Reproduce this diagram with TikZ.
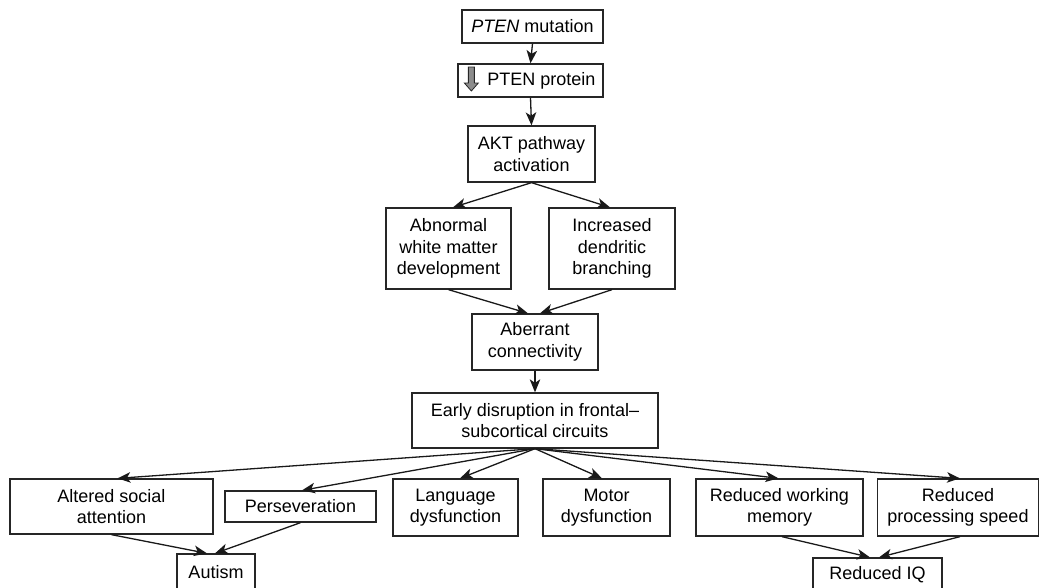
\documentclass[tikz,border=0pt]{standalone}
\usepackage{fontspec}
\setmainfont{Liberation Sans}
\usetikzlibrary{arrows.meta,calc}
\begin{document}
\begin{tikzpicture}[x=1pt,y=-1pt,
  box/.style={draw=black!85,line width=1.3pt,inner sep=0pt,align=center,
    font=\fontsize{18}{21.5}\selectfont},
  arr/.style={line width=1.3pt,draw=black!90,-{Stealth[length=13pt,width=10.5pt,inset=3.5pt]}}]
\useasboundingbox (0,0) rectangle (1039,587);
% nodes
\node[box,minimum width=141pt,minimum height=33pt] (mut) at (532.5,26.5) {\textit{PTEN} mutation};
\node[box,minimum width=145pt,minimum height=33pt] (prot) at (530.5,80.5) {\hspace*{22pt}PTEN protein};
\node[box,minimum width=127pt,minimum height=56pt] (akt) at (531.5,154) {AKT pathway\\activation};
\node[box,minimum width=125pt,minimum height=81pt] (wm) at (448.5,248.5) {Abnormal\\white matter\\development};
\node[box,minimum width=126pt,minimum height=81pt] (dend) at (612,248.5) {Increased\\dendritic\\branching};
\node[box,minimum width=126pt,minimum height=56pt] (aber) at (535,342) {Aberrant\\connectivity};
\node[box,minimum width=246pt,minimum height=55pt] (early) at (535,420.5) {Early disruption in frontal--\\subcortical circuits};
\node[box,minimum width=203pt,minimum height=55pt] (soc) at (111.5,506.5) {Altered social\\attention};
\node[box,minimum width=151pt,minimum height=31pt] (pers) at (300.5,506.5) {Perseveration};
\node[box,minimum width=125pt,minimum height=57pt] (lang) at (455.5,507.5) {Language\\dysfunction};
\node[box,minimum width=127pt,minimum height=57pt] (motor) at (606.5,507.5) {Motor\\dysfunction};
\node[box,minimum width=167pt,minimum height=57pt] (wmem) at (779.5,507.5) {Reduced working\\memory};
\node[box,minimum width=161pt,minimum height=57pt] (speed) at (958,507.5) {Reduced\\processing speed};
\node[box,minimum width=78pt,minimum height=36pt] (aut) at (216,572) {Autism};
\node[box,minimum width=129pt,minimum height=34pt] (iq) at (877.5,575) {Reduced IQ};
% grey down arrow symbol
\filldraw[fill=black!45,draw=black!85,line width=0.8pt,shift={(prot.west)}]
  (11,-13.5) -- (17,-13.5) -- (17,2.5) -- (21,2.5) -- (14,10.5) -- (7,2.5) -- (11,2.5) -- cycle;
% connectors
\draw[arr] (mut.south) -- (prot.north);
\draw[arr] (prot.south) -- (akt.north);
\draw[arr] (akt.south) -- ($(wm.north)+(4.5,0)$);
\draw[arr] (akt.south) -- ($(dend.north)+(-2,0)$);
\draw[arr] (wm.south) -- ($(aber.north)+(-7,0)$);
\draw[arr] (dend.south) -- ($(aber.north)+(5,0)$);
\draw[arr] (aber.south) -- (early.north);
\draw[arr] (early.south) -- ($(soc.north)+(6,0)$);
\draw[arr] (early.south) -- ($(pers.north)+(1.5,0)$);
\draw[arr] (early.south) -- ($(lang.north)+(4.5,0)$);
\draw[arr] (early.south) -- ($(motor.north)+(-4.5,0)$);
\draw[arr] (early.south) -- ($(wmem.north)+(-1,0)$);
\draw[arr] (early.south) -- ($(speed.north)+(2,0)$);
\draw[arr] (soc.south) -- ($(aut.north)+(-9,0)$);
\draw[arr] (pers.south) -- ($(aut.north)+(-1,0)$);
\draw[arr] ($(wmem.south)+(2.5,0)$) -- ($(iq.north)+(-7.5,0)$);
\draw[arr] ($(speed.south)+(2,0)$) -- ($(iq.north)+(1.5,0)$);
\end{tikzpicture}
\end{document}
